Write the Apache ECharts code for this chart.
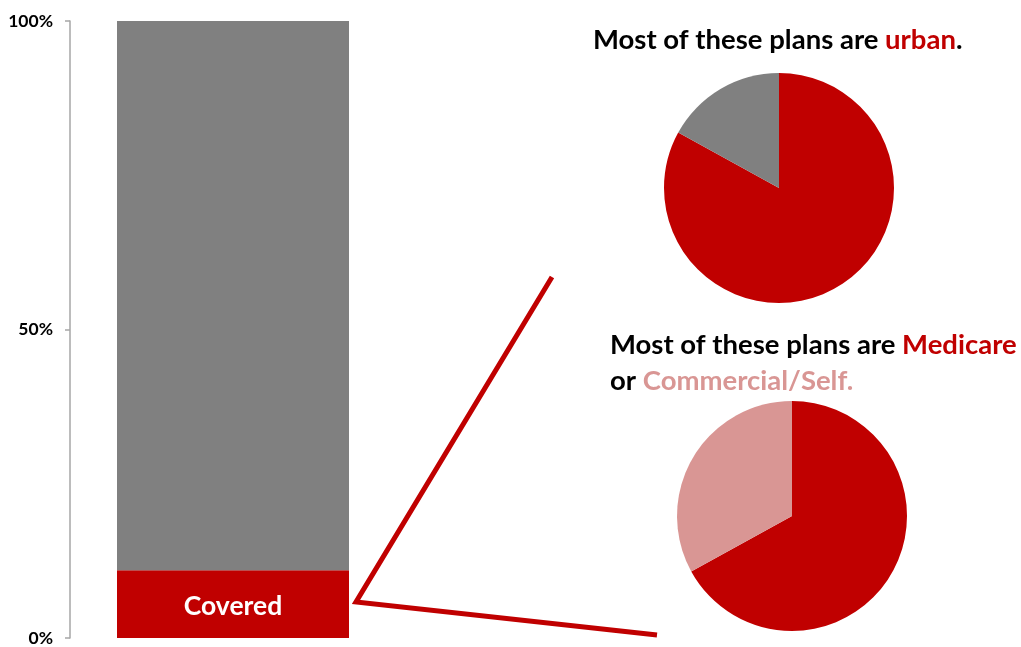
<!DOCTYPE html>
<html>
<head>
<meta charset="utf-8">
<style>
  html, body { margin: 0; padding: 0; background: #ffffff; }
  #chart { width: 1021px; height: 647px; }
</style>
<script src="https://cdn.jsdelivr.net/npm/echarts@6/dist/echarts.min.js"></script>
</head>
<body>
<div id="chart"></div>
<script>
// Share of plans (percent) split into covered and the rest
const barCategories = ['Plans'];
const coveredShare = [11];
const otherShare = [89];

// Breakdown of the covered plans
const locationNames = ['Urban', 'Rural'];
const locationValues = [83, 17];
const payerNames = ['Medicare', 'Commercial/Self'];
const payerValues = [67, 33];

const RED = '#c00000';
const GREY = '#808080';
const PINK = '#d99694';
const FONT = 'Lato, "Open Sans", sans-serif';
const TITLE_SIZE = 27.5;

const pieTopCenter = [779, 188];
const pieBottomCenter = [792, 516];
const pieRadius = 115;

const chart = echarts.init(document.getElementById('chart'));

function titleStyle(color) {
  return { fontFamily: FONT, fontWeight: 'bold', fontSize: TITLE_SIZE, color: color, lineHeight: 36 };
}

const option = {
  animation: false,
  textStyle: { fontFamily: FONT },
  title: [
    {
      left: 588, top: 17,
      text: '{k|Most of these plans are }{r|urban}{k|.}',
      textStyle: {
        rich: { k: titleStyle('#000000'), r: titleStyle(RED) }
      }
    },
    {
      left: 605, top: 322,
      text: '{k|Most of these plans are }{r|Medicare}\n{k|or }{p|Commercial/Self.}',
      textStyle: {
        lineHeight: 36,
        rich: { k: titleStyle('#000000'), r: titleStyle(RED), p: titleStyle(PINK) }
      }
    }
  ],
  grid: { left: 70, top: 21, width: 326, bottom: 7, containLabel: false },
  xAxis: {
    type: 'category',
    data: barCategories,
    show: false
  },
  yAxis: {
    type: 'value',
    min: 0, max: 100, interval: 50,
    axisLine: { show: true, lineStyle: { color: '#a6a6a6', width: 1.5 } },
    axisTick: { show: true, inside: false, length: 5, lineStyle: { color: '#a6a6a6', width: 1.5 } },
    splitLine: { show: false },
    axisLabel: {
      formatter: '{value}%',
      color: '#000000',
      fontFamily: FONT,
      fontWeight: 'bold',
      fontSize: 17.5,
      margin: 17
    }
  },
  series: [
    {
      type: 'bar',
      stack: 'share',
      data: coveredShare,
      barWidth: 232,
      itemStyle: { color: RED },
      label: {
        show: true,
        position: 'inside',
        formatter: 'Covered',
        color: '#ffffff',
        fontFamily: FONT,
        fontWeight: 'bold',
        fontSize: 26.5,
        offset: [0, 2]
      }
    },
    {
      type: 'bar',
      stack: 'share',
      data: otherShare,
      barWidth: 232,
      itemStyle: { color: GREY }
    },
    {
      type: 'pie',
      center: pieTopCenter,
      radius: pieRadius,
      startAngle: 90,
      clockwise: true,
      label: { show: false },
      labelLine: { show: false },
      emphasis: { disabled: true },
      data: locationNames.map((n, i) => ({
        name: n, value: locationValues[i],
        itemStyle: { color: i === 0 ? RED : GREY }
      }))
    },
    {
      type: 'pie',
      center: pieBottomCenter,
      radius: pieRadius,
      startAngle: 90,
      clockwise: true,
      label: { show: false },
      labelLine: { show: false },
      emphasis: { disabled: true },
      data: payerNames.map((n, i) => ({
        name: n, value: payerValues[i],
        itemStyle: { color: i === 0 ? RED : PINK }
      }))
    }
  ]
};

chart.setOption(option);

// Connector from the covered segment out towards the two breakdown pies
const midCovered = chart.convertToPixel({ xAxisIndex: 0, yAxisIndex: 0 }, [0, coveredShare[0] / 2]);
const vertex = [midCovered[0] + 123, midCovered[1] - 2];
const upperEnd = [pieTopCenter[0] - 227, pieTopCenter[1] + 89];
const lowerEnd = [pieBottomCenter[0] - 135, pieBottomCenter[1] + 119];

chart.setOption({
  graphic: [
    {
      type: 'polyline',
      shape: { points: [upperEnd, vertex, lowerEnd] },
      style: { stroke: RED, lineWidth: 5, fill: null, lineJoin: 'miter' },
      z: 10
    }
  ]
});
</script>
</body>
</html>
